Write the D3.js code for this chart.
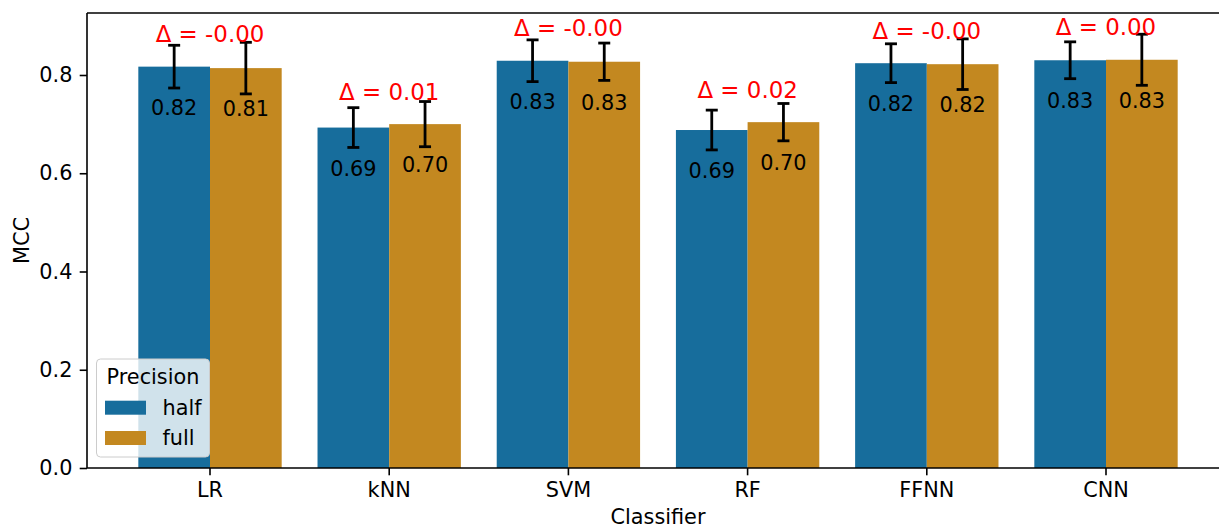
<!DOCTYPE html>
<html>
<head>
<meta charset="utf-8">
<script src="https://cdn.jsdelivr.net/npm/d3@7"></script>
<style>
  html, body { margin: 0; padding: 0; background: #ffffff; }
  svg { display: block; font-family: "DejaVu Sans", sans-serif; }
</style>
</head>
<body>
<svg id="chart" width="1219" height="529"></svg>
<script>
// Classifier MCC, half vs full precision (mean ± std)
const categories = ["LR", "kNN", "SVM", "RF", "FFNN", "CNN"];
const seriesNames = ["half", "full"];
const halfMean = [0.817, 0.693, 0.829, 0.688, 0.824, 0.830];
const fullMean = [0.814, 0.700, 0.827, 0.704, 0.822, 0.831];
const halfStd  = [0.0435, 0.0405, 0.0425, 0.0405, 0.0395, 0.0375];
const fullStd  = [0.0525, 0.046, 0.038, 0.038, 0.0515, 0.052];
const yTicks = [0.0, 0.2, 0.4, 0.6, 0.8];
const colors = ["#176d9c", "#c38820"];

const W = 1219, H = 529;
const plot = { left: 87, top: 13, bottom: 468, right: 1229 };
const fs = 20.8;

const svg = d3.select("#chart");

const x0 = d3.scaleBand()
  .domain(categories)
  .range([120.4, 1195.6])
  .paddingInner(0.2)
  .paddingOuter(0.1);
const x1 = d3.scaleBand()
  .domain(seriesNames)
  .range([0, x0.bandwidth()]);
const y = d3.scaleLinear()
  .domain([0, 0.9262])
  .range([plot.bottom, plot.top]);

const rows = categories.map((c, i) => ({
  cat: c,
  vals: [
    { s: "half", mean: halfMean[i], std: halfStd[i], color: colors[0] },
    { s: "full", mean: fullMean[i], std: fullStd[i], color: colors[1] }
  ]
}));

// bars
const groups = svg.append("g").selectAll("g").data(rows).join("g")
  .attr("transform", d => `translate(${x0(d.cat)},0)`);

groups.selectAll("rect").data(d => d.vals).join("rect")
  .attr("x", d => x1(d.s))
  .attr("width", x1.bandwidth())
  .attr("y", d => y(d.mean))
  .attr("height", d => y(0) - y(d.mean))
  .attr("fill", d => d.color);

// error bars
const eb = groups.selectAll("g.err").data(d => d.vals).join("g").attr("class", "err")
  .attr("stroke", "#000").attr("stroke-width", 2.8);
const cx = d => x1(d.s) + x1.bandwidth() / 2;
eb.append("line")
  .attr("x1", cx).attr("x2", cx)
  .attr("y1", d => y(d.mean + d.std)).attr("y2", d => y(d.mean - d.std));
eb.append("line")
  .attr("x1", d => cx(d) - 6).attr("x2", d => cx(d) + 6)
  .attr("y1", d => y(d.mean + d.std)).attr("y2", d => y(d.mean + d.std));
eb.append("line")
  .attr("x1", d => cx(d) - 6).attr("x2", d => cx(d) + 6)
  .attr("y1", d => y(d.mean - d.std)).attr("y2", d => y(d.mean - d.std));

// value labels inside bars
groups.selectAll("text.val").data(d => d.vals).join("text").attr("class", "val")
  .attr("x", cx)
  .attr("y", d => y(d.mean) + 48)
  .attr("text-anchor", "middle")
  .attr("font-size", fs)
  .attr("fill", "#000")
  .text(d => d.mean.toFixed(2));

// difference labels above each group
groups.append("text")
  .attr("x", x0.bandwidth() / 2)
  .attr("y", d => y(Math.max(d.vals[0].mean, d.vals[1].mean) + 0.05))
  .attr("text-anchor", "middle")
  .attr("font-size", 22.9)
  .attr("fill", "#ff0000")
  .text(d => "Δ = " + (d.vals[1].mean - d.vals[0].mean).toFixed(2));

// axes
const yAxis = svg.append("g")
  .attr("transform", `translate(${plot.left},0)`)
  .call(d3.axisLeft(y).tickValues(yTicks).tickFormat(d3.format(".1f")).tickSize(7.3).tickPadding(7.3));
yAxis.select(".domain").remove();
yAxis.selectAll("line").attr("stroke", "#000").attr("stroke-width", 1.6);
yAxis.selectAll("text").attr("font-size", fs).attr("font-family", "DejaVu Sans").attr("fill", "#000");

const xAxis = svg.append("g")
  .attr("transform", `translate(0,${plot.bottom})`)
  .call(d3.axisBottom(x0).tickSize(7.3).tickPadding(7.3));
xAxis.select(".domain").remove();
xAxis.selectAll("line").attr("stroke", "#000").attr("stroke-width", 1.6);
xAxis.selectAll("text").attr("font-size", fs).attr("font-family", "DejaVu Sans").attr("fill", "#000");

// spines
const spines = svg.append("g").attr("stroke", "#000").attr("stroke-width", 1.6).attr("fill", "none");
spines.append("line").attr("x1", plot.left).attr("x2", plot.left).attr("y1", plot.top).attr("y2", plot.bottom);
spines.append("line").attr("x1", plot.left).attr("x2", plot.right).attr("y1", plot.bottom).attr("y2", plot.bottom);
spines.append("line").attr("x1", plot.left).attr("x2", plot.right).attr("y1", plot.top).attr("y2", plot.top);
spines.append("line").attr("x1", plot.right).attr("x2", plot.right).attr("y1", plot.top).attr("y2", plot.bottom);

// axis titles
svg.append("text")
  .attr("x", (plot.left + plot.right) / 2).attr("y", 524)
  .attr("text-anchor", "middle").attr("font-size", fs).text("Classifier");
svg.append("text")
  .attr("transform", `translate(29,${(plot.top + plot.bottom) / 2}) rotate(-90)`)
  .attr("text-anchor", "middle").attr("font-size", fs).text("MCC");

// legend
const lg = svg.append("g").attr("transform", "translate(96.5,359)");
lg.append("rect")
  .attr("width", 113).attr("height", 98).attr("rx", 4)
  .attr("fill", "#ffffff").attr("fill-opacity", 0.8)
  .attr("stroke", "#cccccc").attr("stroke-width", 1);
lg.append("text").attr("x", 56.5).attr("y", 24.5).attr("text-anchor", "middle")
  .attr("font-size", fs).text("Precision");
seriesNames.forEach((s, i) => {
  lg.append("rect").attr("x", 8.5).attr("y", 41.7 + i * 30.3).attr("width", 41).attr("height", 14)
    .attr("fill", colors[i]);
  lg.append("text").attr("x", 66).attr("y", 56 + i * 30.3).attr("font-size", fs).text(s);
});
</script>
</body>
</html>
